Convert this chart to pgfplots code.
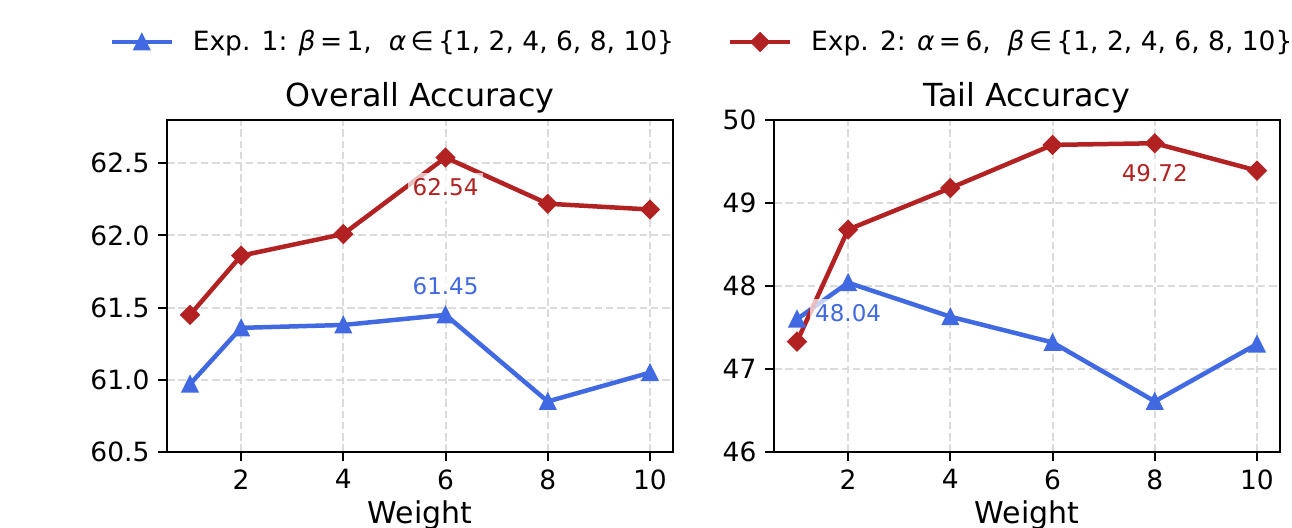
\documentclass[border=0pt]{standalone}
\usepackage{fontspec}
\setmainfont{DejaVu Sans}
\usepackage{pgfplots}
\pgfplotsset{compat=1.18}
\definecolor{eblue}{RGB}{65,105,225}
\definecolor{ered}{RGB}{178,34,34}
\pgfdeclareplotmark{mtri}{%
  \pgfpathmoveto{\pgfqpoint{0pt}{\pgfplotmarksize}}%
  \pgfpathlineto{\pgfqpoint{-\pgfplotmarksize}{-\pgfplotmarksize}}%
  \pgfpathlineto{\pgfqpoint{\pgfplotmarksize}{-\pgfplotmarksize}}%
  \pgfpathclose\pgfusepathqfillstroke}
\pgfdeclareplotmark{mdia}{%
  \pgfpathmoveto{\pgfqpoint{0pt}{\pgfplotmarksize}}%
  \pgfpathlineto{\pgfqpoint{\pgfplotmarksize}{0pt}}%
  \pgfpathlineto{\pgfqpoint{0pt}{-\pgfplotmarksize}}%
  \pgfpathlineto{\pgfqpoint{-\pgfplotmarksize}{0pt}}%
  \pgfpathclose\pgfusepathqfillstroke}
\tikzset{ann/.style={font=\fontsize{9.2}{11}\selectfont, fill=white, fill opacity=0.7, text opacity=1, inner sep=2pt}}
\pgfplotsset{
  myax/.style={
    scale only axis, width=202.4pt, height=132.8pt, anchor=south west,
    xmin=0.55, xmax=10.45, xtick={2,4,6,8,10},
    axis line style={line width=0.8pt},
    tick align=outside, tick pos=left,
    major tick length=3.5pt,
    every tick/.style={black, line width=0.8pt},
    grid=major,
    major grid style={dashed, dash pattern=on 3pt off 1.5pt, gray!28, line width=0.8pt},
    /pgf/number format/assume math mode=true,
    tick label style={font=\fontsize{10.6}{13}\selectfont},
    title style={at={(0.5,1)}, anchor=base, yshift=-0.6pt, font=\fontsize{12.7}{15}\selectfont},
    xlabel style={at={(axis description cs:0.5,0)}, anchor=base, yshift=-28.8pt, font=\fontsize{12}{14}\selectfont},
    xlabel={Weight},
  },
  bl/.style={eblue, line width=1.8pt, mark=mtri, mark size=3pt, mark options={line width=0.8pt, solid}},
  rd/.style={ered, line width=1.8pt, mark=mdia, mark size=3.5pt, mark options={line width=0.8pt, solid}},
}
\begin{document}
\begin{tikzpicture}
\useasboundingbox (0,0) rectangle (516.8pt,211.2pt);
\begin{axis}[myax, at={(66.8pt,30.4pt)},
  ymin=60.5, ymax=62.8, ytick={60.5,61.0,61.5,62.0,62.5},
  yticklabel style={/pgf/number format/.cd, fixed, fixed zerofill, precision=1},
  title={Overall Accuracy},
  legend columns=2,
  legend style={at={(-0.1146,1.235)}, anchor=west, draw=none, fill=none, inner sep=0pt,
    font=\fontsize{10.6}{12.5}\selectfont,
    /tikz/every odd column/.append style={column sep=5.5pt},
    /tikz/every even column/.append style={column sep=19.5pt}},
  legend image code/.code={\draw[mark repeat=2, mark phase=2] plot coordinates {(0pt,0pt) (12pt,0pt) (24pt,0pt)};},
]
\addplot[bl] coordinates {(1,60.97) (2,61.36) (4,61.38) (6,61.45) (8,60.85) (10,61.05)};
\addlegendentry{Exp. 1: \textit{β}\,=\,1,\ \ \textit{α}\,∈\,\{1, 2, 4, 6, 8, 10\}}
\addplot[rd] coordinates {(1,61.45) (2,61.86) (4,62.01) (6,62.54) (8,62.22) (10,62.18)};
\addlegendentry{Exp. 2: \textit{α}\,=\,6,\ \ \textit{β}\,∈\,\{1, 2, 4, 6, 8, 10\}}
\node[ann, text=ered, yshift=-11.8pt] at (axis cs:6,62.54) {62.54};
\node[ann, text=eblue, yshift=11.6pt] at (axis cs:6,61.45) {61.45};
\end{axis}
\begin{axis}[myax, at={(309.6pt,30.4pt)},
  ymin=46, ymax=50, ytick={46,47,48,49,50},
  title={Tail Accuracy},
]
\addplot[bl] coordinates {(1,47.60) (2,48.04) (4,47.63) (6,47.32) (8,46.61) (10,47.30)};
\addplot[rd] coordinates {(1,47.33) (2,48.68) (4,49.18) (6,49.70) (8,49.72) (10,49.39)};
\node[ann, text=eblue, yshift=-12pt] at (axis cs:2,48.04) {48.04};
\node[ann, text=ered, yshift=-12pt] at (axis cs:8,49.72) {49.72};
\end{axis}
\end{tikzpicture}
\end{document}
